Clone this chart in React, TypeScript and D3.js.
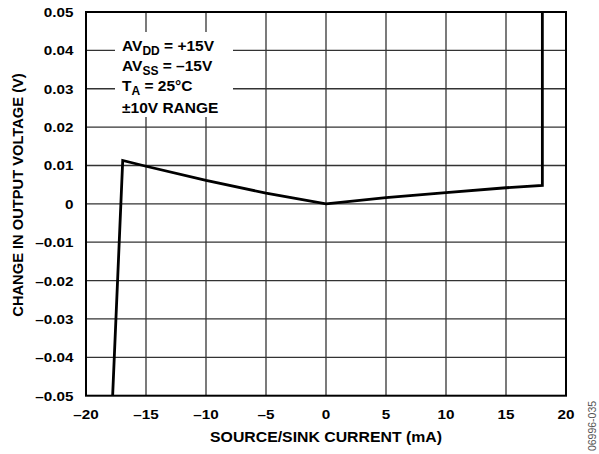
import React from "react";
import * as d3 from "d3";

const xTicks = [-20, -15, -10, -5, 0, 5, 10, 15, 20];
const yTicks = [0.05, 0.04, 0.03, 0.02, 0.01, 0, -0.01, -0.02, -0.03, -0.04, -0.05];
const curveX = [-17.78, -16.94, -15, -10, -5, 0, 5, 10, 15, 18.03, 18.03];
const curveY = [-0.05, 0.0113, 0.0098, 0.0061, 0.0028, 0, 0.0016, 0.0029, 0.0042, 0.0048, 0.05];

const W = 599, H = 454;
const L = 86, R = 566, T = 12, B = 395.7;

function fmtY(v: number) {
  if (v === 0) return "0";
  const s = Math.abs(v).toFixed(2);
  return (v < 0 ? "\u20130" : "0") + s.slice(1);
}
function fmtX(v: number) {
  return v < 0 ? "\u2013" + Math.abs(v) : String(v);
}

function SText({ x, y, sx, anchor, children }: any) {
  return (
    <g transform={`translate(${x},${y}) scale(${sx},1)`}>
      <text x={0} y={0} textAnchor={anchor}>{children}</text>
    </g>
  );
}

export default function App() {
  const x = d3.scaleLinear().domain([-20, 20]).range([L, R]);
  const y = d3.scaleLinear().domain([-0.05, 0.05]).range([B, T]);
  const pts = curveX.map((v, i) => [x(v), y(curveY[i])] as [number, number]);
  const line = d3.line()(pts) || "";
  const font = "'Liberation Sans', Arial, sans-serif";
  return (
    <svg width={W} height={H} style={{ position: "absolute", left: 0, top: 0 }} fontFamily={font}>
      <rect x={0} y={0} width={W} height={H} fill="white" />
      {xTicks.slice(1, -1).map((t) => (
        <line key={"gx" + t} x1={x(t)} x2={x(t)} y1={T} y2={B} stroke="#333" strokeWidth={1.3} />
      ))}
      {yTicks.slice(1, -1).map((t) => (
        <line key={"gy" + t} x1={L} x2={R} y1={y(t)} y2={y(t)} stroke="#333" strokeWidth={1.3} />
      ))}
      <rect x={115} y={32} width={118} height={85} fill="white" />
      <rect x={L} y={T} width={R - L} height={B - T} fill="none" stroke="black" strokeWidth={2} />
      <path d={line} fill="none" stroke="black" strokeWidth={2.8} strokeLinejoin="miter" />
      <g fontWeight="bold" fontSize={15.5} fill="black">
        <text x={122} y={51}>AV<tspan fontSize={12} dy={4}>DD</tspan><tspan dy={-4}> = +15V</tspan></text>
        <text x={122} y={71}>AV<tspan fontSize={12} dy={4}>SS</tspan><tspan dy={-4}> = {"\u2013"}15V</tspan></text>
        <text x={122} y={91}>T<tspan fontSize={12} dy={4}>A</tspan><tspan dy={-4}> = 25°C</tspan></text>
        <text x={122} y={112.5}>±10V RANGE</text>
      </g>
      <g fontWeight="bold" fontSize={13.5} fill="black">
        {yTicks.map((t) => (
          <SText key={"ly" + t} x={73.5} y={y(t) + 5} sx={1.13} anchor="end">{fmtY(t)}</SText>
        ))}
        {xTicks.map((t) => (
          <SText key={"lx" + t} x={x(t)} y={419} sx={1.13} anchor="middle">{fmtX(t)}</SText>
        ))}
      </g>
      <g fontWeight="bold" fill="black">
        <SText x={x(0)} y={442} sx={1.055} anchor="middle"><tspan fontSize={15}>SOURCE/SINK CURRENT (mA)</tspan></SText>
        <text fontSize={14.7} transform={`translate(22.5,195) rotate(-90)`} textAnchor="middle">CHANGE IN OUTPUT VOLTAGE (V)</text>
      </g>
      <text transform="translate(596,426) rotate(-90)" textAnchor="middle" fontSize={10.5} fill="#555">06996-035</text>
    </svg>
  );
}
